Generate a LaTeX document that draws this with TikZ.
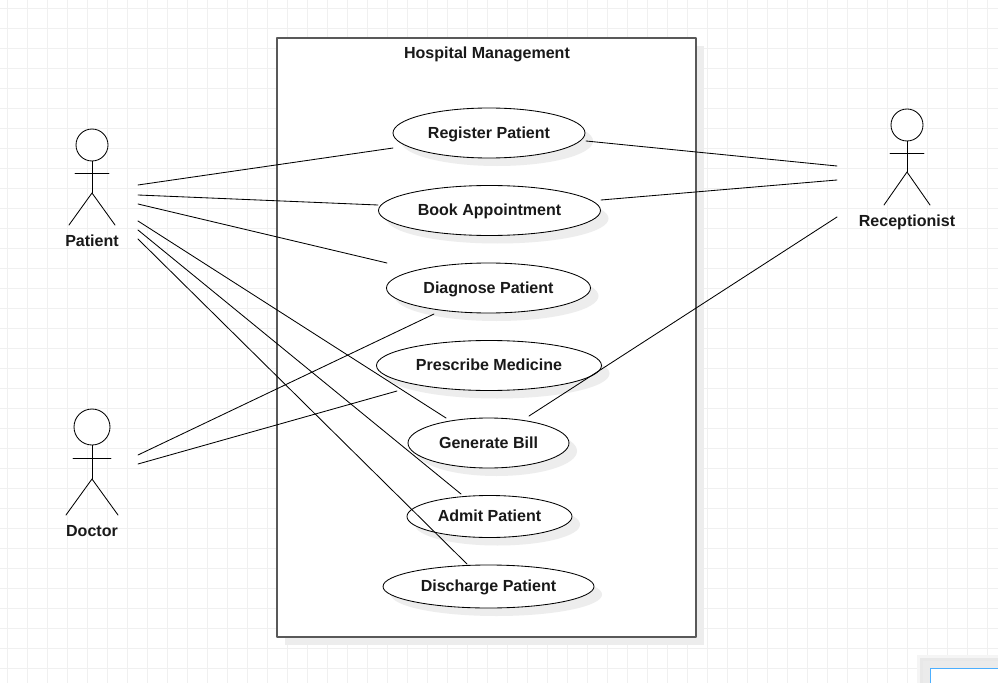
\documentclass[tikz,border=0pt]{standalone}
\usepackage{fontspec}
\setmainfont{Liberation Sans}
\usetikzlibrary{shapes.geometric,shadows}

\begin{document}
\begin{tikzpicture}[
  x=1bp,
  y=-1bp,
  line cap=round,
  line join=round,
  gridline/.style={draw=black!6, line width=0.9},
  systembox/.style={draw=black!65, line width=1.4, fill=white},
  softshadow/.style={fill=black!7, draw=none},
  usecase/.style={ellipse, draw=black, line width=0.85, fill=white, inner sep=0,
    font=\bfseries\fontsize{16.1}{18}\selectfont, text=black!90, text height=12bp, text depth=1.5bp,
    drop shadow={shadow xshift=8bp, shadow yshift=-8bp, fill=black!7, opacity=1}},
  head/.style={circle, draw=black, line width=0.85, fill=white, inner sep=0},
  actorline/.style={draw=black, line width=0.85},
  assoc/.style={draw=black, line width=0.85},
  label/.style={font=\bfseries\fontsize{16.1}{18}\selectfont, text=black!90, text height=12bp, text depth=1.5bp, inner sep=0}
]
\path[use as bounding box] (0,0) rectangle (998,683);
\fill[white] (0,0) rectangle (998,683);

% Background grid
\foreach \gx in {7.5,27.5,...,997.5}
  \draw[gridline] (\gx,0) -- (\gx,683);
\foreach \gy in {8,28,...,668}
  \draw[gridline] (0,\gy) -- (998,\gy);

% System boundary
\fill[softshadow] (285,46) rectangle (704,645);
\node[systembox, minimum width=419bp, minimum height=599bp, inner sep=0] (hospital) at (486.5,337.5) {};
\node[label] (hospitaltitle) at (487,53) {Hospital Management};

% Use cases
\node[usecase, minimum width=192bp, minimum height=50bp] (register) at (489,133) {Register Patient};
\node[usecase, minimum width=222bp, minimum height=50bp] (book) at (489.5,210.5) {Book Appointment};
\node[usecase, minimum width=204bp, minimum height=50bp] (diagnose) at (488.5,288) {Diagnose Patient};
\node[usecase, minimum width=225bp, minimum height=50bp] (prescribe) at (489,365.5) {Prescribe Medicine};
\node[usecase, minimum width=161bp, minimum height=50bp] (bill) at (488.5,443) {Generate Bill};
\node[usecase, minimum width=165bp, minimum height=42bp] (admit) at (489.5,516.5) {Admit Patient};
\node[usecase, minimum width=211bp, minimum height=43bp] (discharge) at (488.5,586.5) {Discharge Patient};

% Patient
\node[head, minimum size=32bp] (patienthead) at (92,145) {};
\coordinate (patienthip) at (92,193);
\draw[actorline] (patienthead.south) -- (patienthip);
\draw[actorline] (75,173) -- (109,173);
\draw[actorline] (69,225) -- (patienthip) -- (115,225);
\node[label] (patient) at (92,241) {Patient};

% Doctor
\node[head, minimum size=36bp] (doctorhead) at (92,427) {};
\coordinate (doctorhip) at (92,479);
\draw[actorline] (doctorhead.south) -- (doctorhip);
\draw[actorline] (73,458) -- (111,458);
\draw[actorline] (66,515) -- (doctorhip) -- (118,515);
\node[label] (doctor) at (92,531) {Doctor};

% Receptionist
\node[head, minimum size=32bp] (receptionisthead) at (907,125) {};
\coordinate (receptionisthip) at (907,172);
\draw[actorline] (receptionisthead.south) -- (receptionisthip);
\draw[actorline] (890,153) -- (924,153);
\draw[actorline] (884,205) -- (receptionisthip) -- (930,205);
\node[label] (receptionist) at (907,221) {Receptionist};

% Free ends beside the actors
\coordinate (patienta) at (138,185);
\coordinate (patientb) at (138,195);
\coordinate (patientc) at (138,204);
\coordinate (patientd) at (138,221);
\coordinate (patiente) at (138,230);
\coordinate (patientf) at (138,239);
\coordinate (doctora) at (138,455);
\coordinate (doctorb) at (138,464);
\coordinate (receptionista) at (837,166);
\coordinate (receptionistb) at (837,180);
\coordinate (receptionistc) at (837,217);

% Associations
\draw[assoc] (patienta) -- ([shift={(-96,15)}]register.center);
\draw[assoc] (patientb) -- ([shift={(-111.5,-5.5)}]book.center);
\draw[assoc] (patientc) -- ([shift={(-101.5,-25)}]diagnose.center);
\draw[assoc] (patientd) -- ([shift={(-42.5,-25)}]bill.center);
\draw[assoc] (patiente) -- ([shift={(-28.5,-22.5)}]admit.center);
\draw[assoc] (patientf) -- ([shift={(-21.5,-22.5)}]discharge.center);
\draw[assoc] (doctora) -- ([shift={(-54.5,26)}]diagnose.center);
\draw[assoc] (doctorb) -- ([shift={(-92,25.5)}]prescribe.center);
\draw[assoc] (receptionista) -- ([shift={(97,8)}]register.center);
\draw[assoc] (receptionistb) -- ([shift={(111.5,-10.5)}]book.center);
\draw[assoc] (receptionistc) -- ([shift={(40.5,-27)}]bill.center);

% Panel in the corner
\fill[black!4] (917,655) rectangle (998,683);
\fill[black!9] (920,658) rectangle (998,683);
\fill[black!8] (923,661) rectangle (998,683);
\draw[draw=blue!45!cyan!70!white, line width=1.1, fill=white] (930.5,668.5) rectangle (1005,690);

\end{tikzpicture}
\end{document}
